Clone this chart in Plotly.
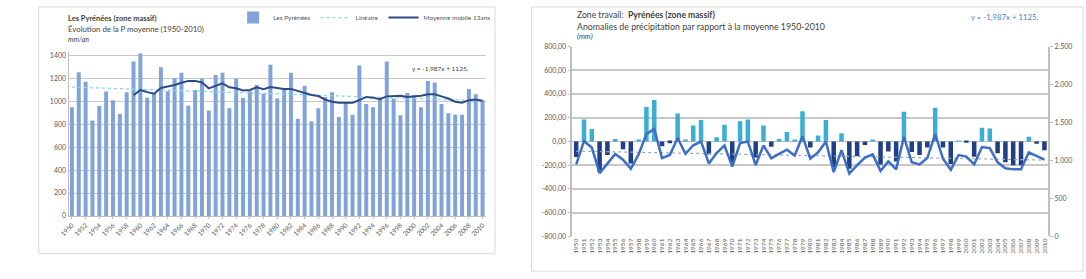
import plotly.graph_objects as go

# ---------------- data ----------------
years = list(range(1950, 2011))
precip = [947, 1253, 1169, 832, 958, 1085, 1009, 888, 1079, 1346,
          1416, 1031, 1071, 1296, 1087, 1200, 1248, 961, 1098, 1197,
          919, 1228, 1248, 938, 1197, 1028, 1087, 1141, 1065, 1318,
          1023, 1107, 1248, 846, 1135, 826, 938, 1037, 1079, 862,
          986, 882, 1310, 975, 947, 1031, 1346, 1023, 877, 1071,
          1051, 947, 1177, 1163, 975, 896, 882, 882, 1107, 1060,
          1009]
ma_years = list(range(1959, 2011))
ma13 = [1051, 1098, 1079, 1065, 1115, 1126, 1141, 1160, 1177, 1177,
        1163, 1112, 1135, 1155, 1121, 1112, 1093, 1098, 1121, 1104,
        1124, 1115, 1107, 1107, 1087, 1071, 1054, 1045, 1014, 995,
        986, 986, 986, 1009, 1037, 1031, 1017, 1042, 1048, 1048,
        1037, 1042, 1048, 1060, 1060, 1042, 1023, 995, 986, 1009,
        1014, 1003]
trend_years = [1950, 2010]
trend_vals = [1123, 1004]
anom = [-131, 185, 105, -255, -115, 20, -65, -185, 15, 290,
        350, -40, -15, 235, 15, 135, 180, -110, 35, 140,
        -180, 170, 185, -135, 135, -45, 20, 80, 10, 255,
        -50, 50, 180, -215, 70, -230, -125, -30, 10, -195,
        -85, -170, 250, -90, -115, -50, 285, -50, -190, 5,
        -10, -130, 115, 110, -100, -175, -200, -200, 40, -20,
        -75]

left_yticks = [0, 200, 400, 600, 800, 1000, 1200, 1400]
left_xticks = list(range(1950, 2011, 2))
r_left_vals = [-800, -600, -400, -200, 0, 200, 400, 600, 800]
r_left_text = ["-800,00", "-600,00", "-400,00", "-200,00", "0,00",
               "200,00", "400,00", "600,00", "800,00"]
r_right_vals = [0, 500, 1000, 1500, 2000, 2500]
r_right_text = ["0", "500", "1.000", "1.500", "2.000", "2.500"]

W, H = 1086, 279
def px(x):
    return x / W
def py(y):
    return 1 - y / H

FONT = "Lato"
TXT = "#404040"
GRID = "#C8C8C8"

fig = go.Figure()

# ---------------- left chart ----------------
fig.add_trace(go.Bar(x=years, y=precip, name="Les Pyrénées",
                     marker=dict(color="#7FA3DA", line=dict(width=0)),
                     xaxis="x", yaxis="y"))
fig.add_trace(go.Scatter(x=trend_years, y=trend_vals, name="Linéaire",
                         mode="lines", line=dict(color="#8FD3E6", width=1.3, dash="dot"),
                         xaxis="x", yaxis="y"))
fig.add_trace(go.Scatter(x=ma_years, y=ma13, name="Moyenne mobile 13ans",
                         mode="lines", line=dict(color="#2E4A85", width=2),
                         xaxis="x", yaxis="y"))

# ---------------- right chart ----------------
bar_cols = ["#3DAED3" if v >= 0 else "#213F86" for v in anom]
fig.add_trace(go.Bar(x=years, y=anom, showlegend=False,
                     marker=dict(color=bar_cols, line=dict(width=0)),
                     xaxis="x2", yaxis="y2"))
fig.add_trace(go.Scatter(x=trend_years, y=trend_vals, showlegend=False,
                         mode="lines", line=dict(color="#94A9C9", width=1.2, dash="dot"),
                         xaxis="x2", yaxis="y3"))
fig.add_trace(go.Scatter(x=years, y=precip, showlegend=False,
                         mode="lines", line=dict(color="#3D6EC6", width=2.5),
                         xaxis="x2", yaxis="y3"))

axis_font = dict(family=FONT, size=7, color="#595959")

fig.update_layout(
    width=W, height=H,
    margin=dict(l=0, r=0, t=0, b=0),
    paper_bgcolor="white", plot_bgcolor="white",
    font=dict(family=FONT, color=TXT),
    bargap=0.42,
    xaxis=dict(domain=[px(60), px(481)], range=[1949.5, 2010.5],
               tickmode="array", tickvals=left_xticks,
               ticktext=[str(v) for v in left_xticks],
               tickangle=-45, tickfont=dict(family=FONT, size=6.5, color="#595959"),
               showgrid=False, zeroline=False, showline=True, linecolor="#BFBFBF",
               ticks="outside", ticklen=2, tickcolor="#BFBFBF", anchor="y"),
    yaxis=dict(domain=[py(218), py(48.4)], range=[0, 1430],
               tickmode="array", tickvals=left_yticks,
               ticktext=[str(v) for v in left_yticks],
               tickfont=axis_font, showgrid=True, gridcolor=GRID, gridwidth=1,
               zeroline=False, showline=True, linecolor="#BFBFBF",
               ticks="", anchor="x"),
    xaxis2=dict(domain=[px(568), px(1048)], range=[1949.5, 2010.5],
                tickmode="array", tickvals=years,
                ticktext=[str(v) for v in years],
                tickangle=-90, tickfont=dict(family=FONT, size=6.5, color="#595959"),
                showgrid=False, zeroline=False, showline=False,
                anchor="y2"),
    yaxis2=dict(domain=[py(239), py(43)], range=[-800, 800],
                tickmode="array", tickvals=r_left_vals, ticktext=r_left_text,
                tickfont=axis_font, showgrid=True, gridcolor=GRID, gridwidth=1.5,
                zeroline=True, zerolinecolor="#BDBDBD", zerolinewidth=1,
                showline=True, linecolor="#BFBFBF", linewidth=1.5,
                ticks="outside", ticklen=3, tickcolor="#BFBFBF", anchor="x2"),
    yaxis3=dict(range=[0, 2500], overlaying="y2", side="right", anchor="x2",
                tickmode="array", tickvals=r_right_vals, ticktext=r_right_text,
                tickfont=axis_font, showgrid=False, zeroline=False,
                showline=True, linecolor="#BFBFBF", linewidth=1.5,
                ticks="outside", ticklen=3, tickcolor="#BFBFBF"),
    legend=dict(orientation="h", x=px(226), y=py(13), xanchor="left", yanchor="middle",
                font=dict(family=FONT, size=6.5, color="#595959"),
                bgcolor="rgba(0,0,0,0)", itemwidth=30, tracegroupgap=0),
)

# chart area frames
fig.add_shape(type="rect", xref="paper", yref="paper",
              x0=px(30), x1=px(490), y0=py(257), y1=py(2),
              line=dict(color="#D9D9D9", width=1), fillcolor="rgba(0,0,0,0)", layer="below")
fig.add_shape(type="rect", xref="paper", yref="paper",
              x0=px(527), x1=px(1083), y0=py(275), y1=py(2),
              line=dict(color="#D9D9D9", width=1), fillcolor="rgba(0,0,0,0)", layer="below")

def ann(x, y, text, size, color=TXT, xanchor="left"):
    fig.add_annotation(xref="paper", yref="paper", x=px(x), y=py(y), text=text,
                       showarrow=False, xanchor=xanchor, yanchor="middle",
                       font=dict(family=FONT, size=size, color=color))

# left chart texts
ann(57, 14, "<b>Les Pyrénées (zone massif)</b>", 7.5)
ann(57, 25, "Évolution de la P moyenne (1950-2010)", 7.8)
ann(57, 35, "<i>mm/an</i>", 7)
ann(404, 66, "y = -1,987x + 1125,", 6.5)

# right chart texts
ann(571, 10, "Zone travail:  <b>Pyrénées (zone massif)</b>", 8.6)
ann(571, 22, "Anomalies de précipitation par rapport à la moyenne 1950-2010", 8.8)
ann(571, 33, "<i>(mm)</i>", 7.5)
ann(1041, 12, "y = -1,987x + 1125,", 7.8, color="#4F7FC8", xanchor="right")

fig.write_html("out.html")
